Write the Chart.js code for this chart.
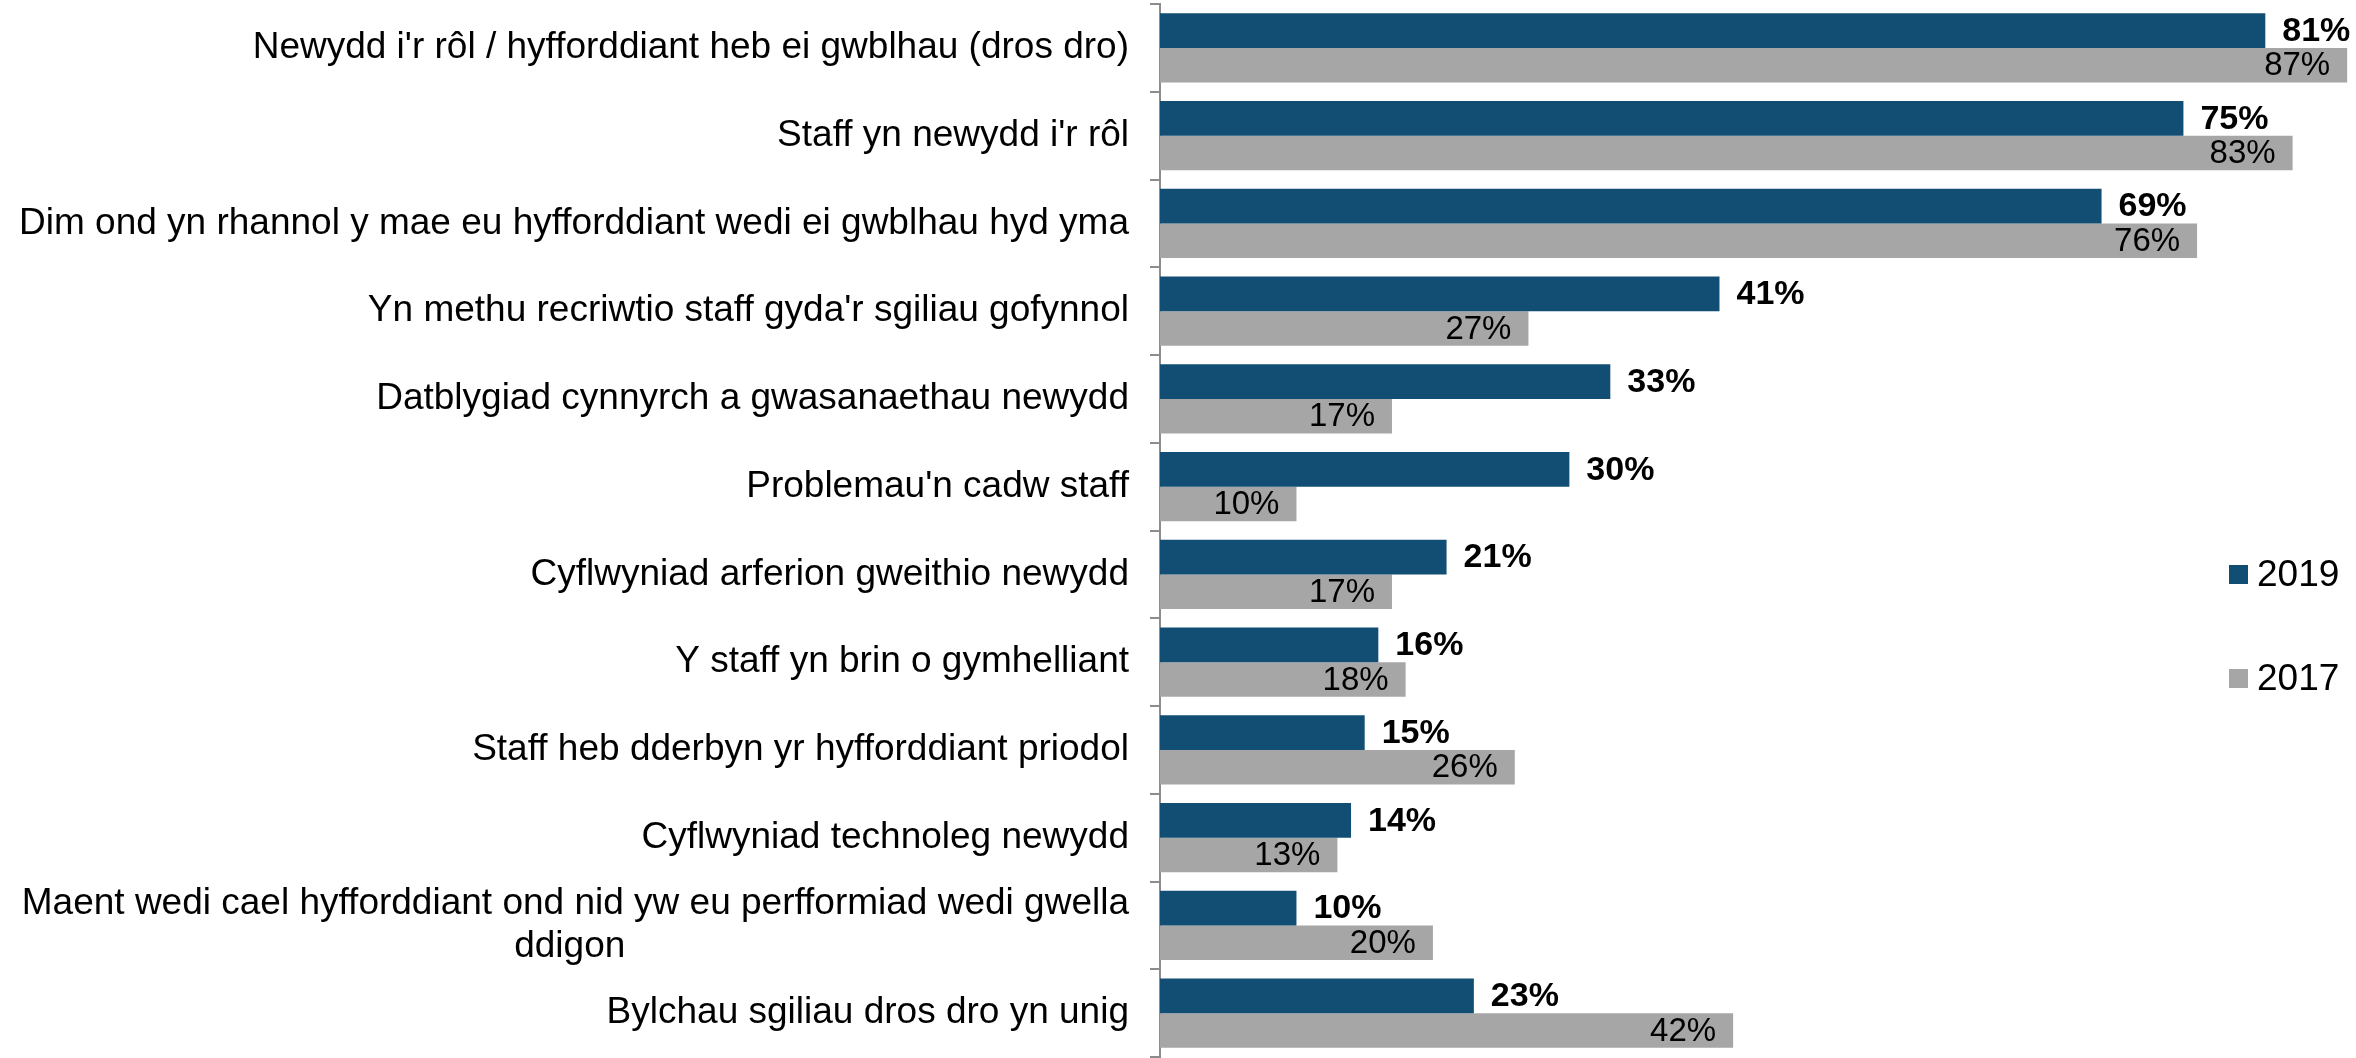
<!DOCTYPE html>
<html>
<head>
<meta charset="utf-8">
<script src="https://cdn.jsdelivr.net/npm/chart.js@4/dist/chart.umd.min.js"></script>
<style>
  html, body { margin: 0; padding: 0; background: #fff; }
  canvas { display: block; }
</style>
</head>
<body>
<canvas id="chart" width="2356" height="1058"></canvas>
<script>
// Categories (multi-line label as array)
const categories = [
  "Newydd i'r rôl / hyfforddiant heb ei gwblhau (dros dro)",
  "Staff yn newydd i'r rôl",
  "Dim ond yn rhannol y mae eu hyfforddiant wedi ei gwblhau hyd yma",
  "Yn methu recriwtio staff gyda'r sgiliau gofynnol",
  "Datblygiad cynnyrch a gwasanaethau newydd",
  "Problemau'n cadw staff",
  "Cyflwyniad arferion gweithio newydd",
  "Y staff yn brin o gymhelliant",
  "Staff heb dderbyn yr hyfforddiant priodol",
  "Cyflwyniad technoleg newydd",
  ["Maent wedi cael hyfforddiant ond nid yw eu perfformiad wedi gwella", "ddigon" + " ".repeat(49)],
  "Bylchau sgiliau dros dro yn unig"
];

const values2019 = [81, 75, 69, 41, 33, 30, 21, 16, 15, 14, 10, 23];
const values2017 = [87, 83, 76, 27, 17, 10, 17, 18, 26, 13, 20, 42];

const seriesNames = ['2019', '2017'];
const colors = ['#124e73', '#a6a6a6'];

const FONT = "'Liberation Sans', Arial, sans-serif";

// draw % labels: 2019 bold outside end, 2017 normal inside end
const valueLabels = {
  id: 'valueLabels',
  afterDatasetsDraw(chart) {
    const ctx = chart.ctx;
    ctx.save();
    ctx.fillStyle = '#000';
    ctx.textBaseline = 'middle';
    chart.data.datasets.forEach((ds, i) => {
      const meta = chart.getDatasetMeta(i);
      meta.data.forEach((bar, j) => {
        const txt = ds.data[j] + '%';
        if (i === 0) {
          ctx.font = 'bold 34px ' + FONT;
          ctx.textAlign = 'left';
          ctx.fillText(txt, bar.x + 17, bar.y + 1);
        } else {
          ctx.font = '33px ' + FONT;
          ctx.textAlign = 'right';
          ctx.fillText(txt, bar.x - 17, bar.y + 1);
        }
      });
    });
    ctx.restore();
  }
};

// legend on the right, vertically stacked
const sideLegend = {
  id: 'sideLegend',
  afterDraw(chart) {
    const ctx = chart.ctx;
    ctx.save();
    ctx.font = '37px ' + FONT;
    ctx.textBaseline = 'middle';
    ctx.textAlign = 'left';
    const x = chart.width - 127;
    const y0 = 574;
    chart.data.datasets.forEach((ds, i) => {
      const y = y0 + i * 104;
      ctx.fillStyle = ds.backgroundColor;
      ctx.fillRect(x, y - 9, 19, 19);
      ctx.fillStyle = '#000';
      ctx.fillText(ds.label, x + 28, y + 2);
    });
    ctx.restore();
  }
};

new Chart(document.getElementById('chart').getContext('2d'), {
  type: 'bar',
  data: {
    labels: categories,
    datasets: [
      { label: seriesNames[0], data: values2019, backgroundColor: colors[0] },
      { label: seriesNames[1], data: values2017, backgroundColor: colors[1] }
    ]
  },
  options: {
    indexAxis: 'y',
    responsive: false,
    devicePixelRatio: 1,
    animation: false,
    layout: { padding: { top: 4, bottom: 1, left: 0, right: 2 } },
    datasets: {
      bar: { categoryPercentage: 0.79, barPercentage: 1.0 }
    },
    plugins: {
      legend: { display: false },
      tooltip: { enabled: false }
    },
    scales: {
      x: {
        display: false,
        min: 0,
        max: 87.5
      },
      y: {
        afterFit: (scale) => {
          scale.width = 1160;
          scale.paddingTop = 0;
          scale.paddingBottom = 0;
        },
        grid: {
          offset: true,
          drawOnChartArea: false,
          drawTicks: true,
          tickLength: 10,
          color: '#8c8c8c',
          lineWidth: 2
        },
        border: { display: true, color: '#8c8c8c', width: 2 },
        ticks: {
          autoSkip: false,
          color: '#000',
          padding: 21,
          font: { family: FONT, size: 37, lineHeight: 1.15 }
        }
      }
    }
  },
  plugins: [valueLabels, sideLegend]
});
</script>
</body>
</html>
